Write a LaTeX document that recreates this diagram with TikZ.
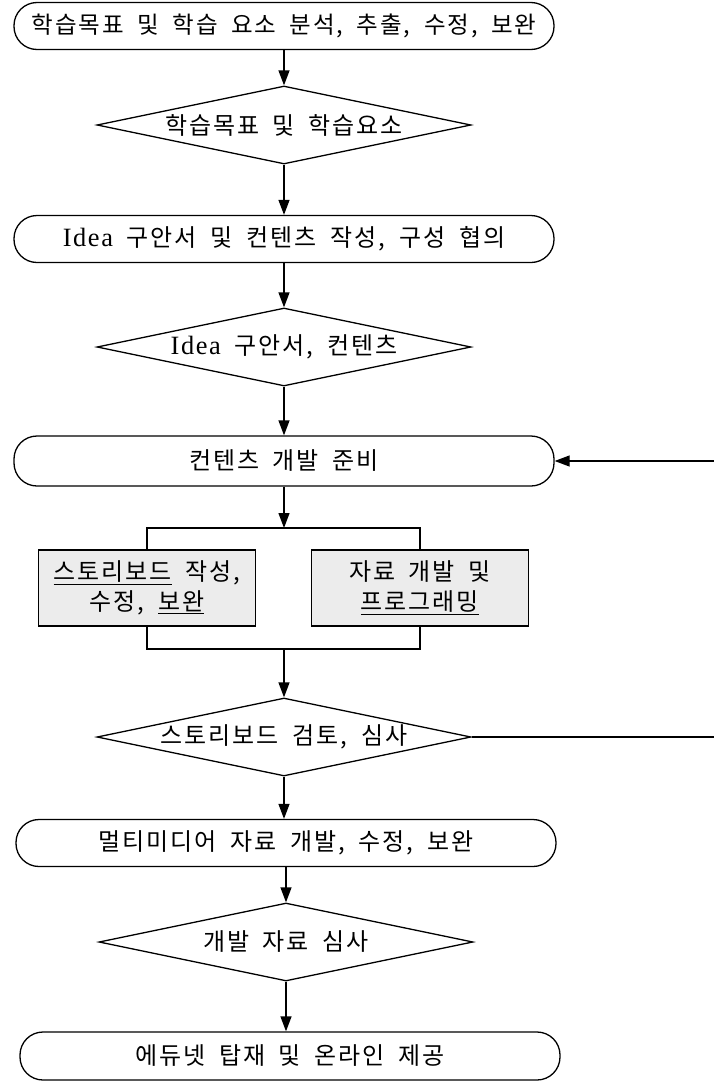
\documentclass[tikz,border=0pt]{standalone}
\usepackage{fontspec}
\setmainfont{Noto Sans CJK KR}[LetterSpace=8, WordSpace=1.9]
\newfontfamily\lat{Liberation Serif}[LetterSpace=6, Scale=1.1]
\usetikzlibrary{arrows.meta,shapes.geometric}
\begin{document}
\begin{tikzpicture}[x=1pt,y=-1pt,
  every node/.style={font=\fontsize{24}{30}\selectfont},
  proc/.style={draw, line width=1.3pt, rounded corners=23pt, minimum width=540pt, minimum height=47pt, inner sep=0pt},
  dec/.style={draw, line width=1.3pt, diamond, minimum width=374pt, minimum height=78pt, inner sep=0pt},
  sub/.style={draw, line width=1.3pt, fill=gray!15, minimum width=217pt, minimum height=76pt, align=center, inner sep=0pt},
  lbl/.style={inner sep=0pt},
  flow/.style={line width=1.3pt, -{Triangle[length=15pt,width=11pt]}},
  wire/.style={line width=1.3pt}]
\useasboundingbox (0,0) rectangle (714,1082);

\node[proc] (b1) at (284,26) {\fontsize{23.5}{30}\selectfont 학습목표 및 학습 요소 분석, 추출, 수정, 보완};
\node[dec] (d1) at (284,125) {};
\node[lbl] (t1) at (d1) {학습목표 및 학습요소};
\node[proc] (b2) at (284,239) {{\lat Idea} 구안서 및 컨텐츠 작성, 구성 협의};
\node[dec] (d2) at (284,347) {};
\node[lbl] (t2) at (d2) {{\lat Idea} 구안서, 컨텐츠};
\node[proc, minimum height=50pt] (b3) at (284,461) {컨텐츠 개발 준비};
\node[sub] (s1) at (147,588) {\underline{스토리보드} 작성,\\수정, \underline{보완}};
\node[sub] (s2) at (420,588) {자료 개발 및\\\underline{프로그래밍}};
\node[dec] (d3) at (284,737) {};
\node[lbl] (t3) at (d3) {스토리보드 검토, 심사};
\node[proc] (b4) at (286,843) {멀티미디어 자료 개발, 수정, 보완};
\node[dec] (d4) at (286,942) {};
\node[lbl] (t4) at (d4) {개발 자료 심사};
\node[proc, minimum height=48pt] (b5) at (290,1056) {에듀넷 탑재 및 온라인 제공};

\coordinate (st) at (284,528);
\coordinate (mg) at (284,649);

\draw[flow] (b1) -- (d1);
\draw[flow] (d1) -- (b2);
\draw[flow] (b2) -- (d2);
\draw[flow] (d2) -- (b3);
\draw[flow] (b3.south) -- (st);
\draw[wire] (s1.north) |- (st) -| (s2.north);
\draw[wire] (s1.south) |- (mg) -| (s2.south);
\draw[flow] (mg) -- (d3.north);
\draw[flow] (d3) -- (b4.north -| d3.south);
\draw[flow] (b4) -- (d4);
\draw[flow] (d4) -- (b5.north -| d4.south);
\draw[flow] (d3.east) -- (720,737) |- (b3.east);
\end{tikzpicture}
\end{document}
